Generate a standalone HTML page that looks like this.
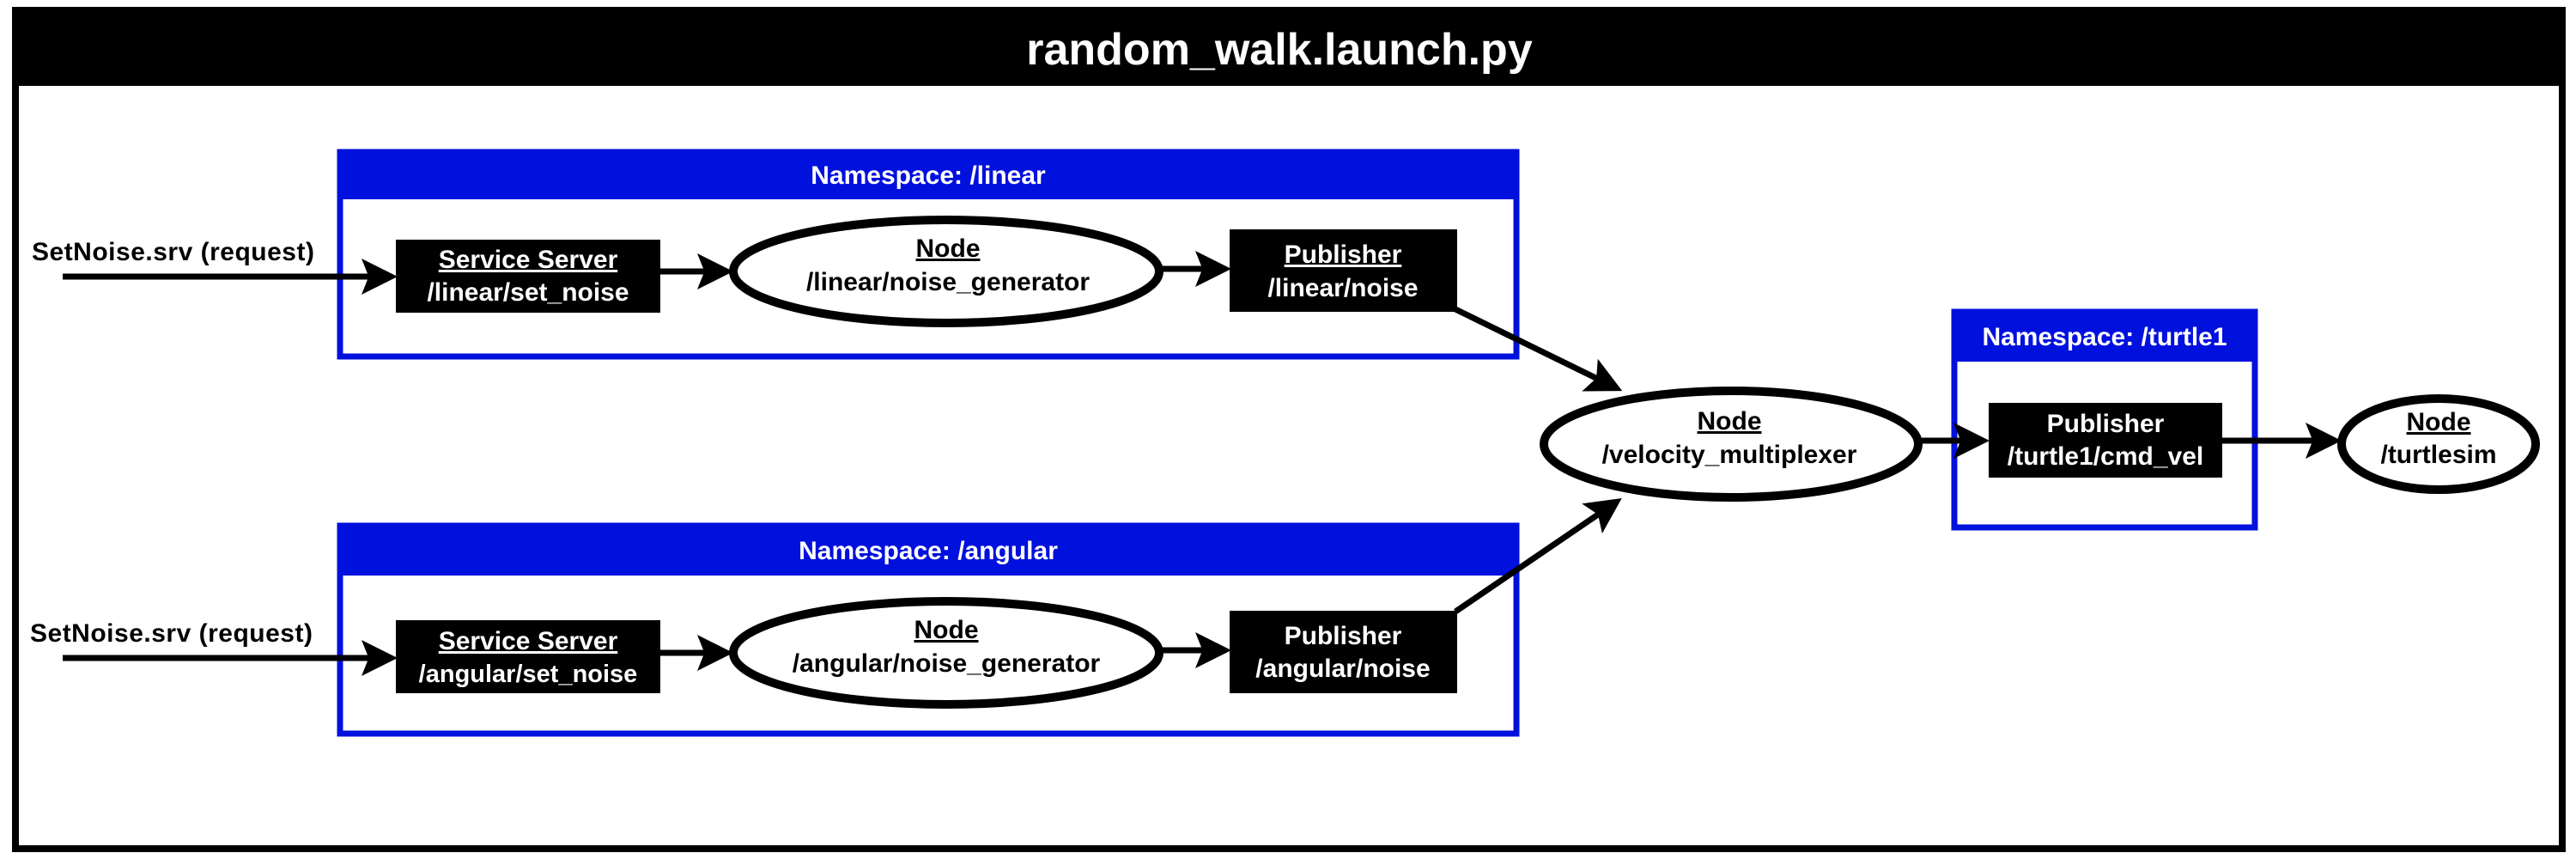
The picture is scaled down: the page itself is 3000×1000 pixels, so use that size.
<!DOCTYPE html>
<html><head><meta charset="utf-8"><style>
html,body{margin:0;padding:0;background:#fff;}
svg{display:block;}
text{font-family:"Liberation Sans","Noto Sans CJK JP",sans-serif;font-weight:bold;}
</style></head><body>
<svg width="3000" height="1000" viewBox="0 0 3000 1000" xmlns="http://www.w3.org/2000/svg">
<defs>
<marker id="ah" markerWidth="6" markerHeight="6" refX="5" refY="3" orient="auto" markerUnits="strokeWidth">
<path d="M0,0 L6,3 L0,6 L1.2,3 Z" fill="#000"/>
</marker>
</defs>
<rect x="0" y="0" width="3000" height="1000" fill="#fff"/>
<rect x="18" y="12" width="2966" height="976" fill="none" stroke="#000" stroke-width="8"/>
<rect x="14" y="8" width="2974" height="92" fill="#000"/>
<text x="1490" y="75" font-size="52" fill="#fff" text-anchor="middle">random_walk.launch.py</text>

<rect x="396" y="177" width="1370" height="238" fill="none" stroke="#0010DD" stroke-width="7"/>
<rect x="393" y="174" width="1376" height="58" fill="#0010DD"/>
<text x="1081" y="214" font-size="30" fill="#fff" text-anchor="middle">Namespace: /linear</text>

<rect x="396" y="612" width="1370" height="242" fill="none" stroke="#0010DD" stroke-width="7"/>
<rect x="393" y="609" width="1376" height="61" fill="#0010DD"/>
<text x="1081" y="651" font-size="30" fill="#fff" text-anchor="middle">Namespace: /angular</text>

<rect x="2276" y="363" width="350" height="251" fill="none" stroke="#0010DD" stroke-width="7"/>
<rect x="2273" y="360" width="356" height="61" fill="#0010DD"/>
<text x="2451" y="402" font-size="30" fill="#fff" text-anchor="middle">Namespace: /turtle1</text>

<g stroke="#000" stroke-width="7" fill="none">
<line x1="73" y1="322" x2="456" y2="322" marker-end="url(#ah)"/>
<line x1="769" y1="316" x2="847" y2="316" marker-end="url(#ah)"/>
<line x1="1352" y1="313" x2="1427" y2="313" marker-end="url(#ah)"/>
<line x1="73" y1="766" x2="456" y2="766" marker-end="url(#ah)"/>
<line x1="769" y1="760" x2="847" y2="760" marker-end="url(#ah)"/>
<line x1="1352" y1="757" x2="1427" y2="757" marker-end="url(#ah)"/>
<line x1="1695" y1="360" x2="1883" y2="452" marker-end="url(#ah)"/>
<line x1="1695" y1="712" x2="1883" y2="584" marker-end="url(#ah)"/>
<line x1="2238" y1="513" x2="2310" y2="513" marker-end="url(#ah)"/>
<line x1="2587" y1="513" x2="2720" y2="513" marker-end="url(#ah)"/>
</g>

<text x="37" y="303" font-size="30" fill="#000" letter-spacing="0.5">SetNoise.srv (request)</text>
<text x="35" y="747" font-size="30" fill="#000" letter-spacing="0.5">SetNoise.srv (request)</text>

<rect x="461" y="279" width="308" height="85" fill="#000"/>
<text x="615" y="312" font-size="30" fill="#fff" text-anchor="middle" text-decoration="underline">Service Server</text>
<text x="615" y="350" font-size="30" fill="#fff" text-anchor="middle">/linear/set_noise</text>
<ellipse cx="1102" cy="316" rx="248" ry="60" fill="#fff" stroke="#000" stroke-width="10"/>
<text x="1104" y="299" font-size="30" fill="#000" text-anchor="middle" text-decoration="underline">Node</text>
<text x="1104" y="338" font-size="30" fill="#000" text-anchor="middle">/linear/noise_generator</text>
<rect x="1432" y="267" width="265" height="96" fill="#000"/>
<text x="1564" y="306" font-size="30" fill="#fff" text-anchor="middle" text-decoration="underline">Publisher</text>
<text x="1564" y="345" font-size="30" fill="#fff" text-anchor="middle">/linear/noise</text>

<rect x="461" y="722" width="308" height="85" fill="#000"/>
<text x="615" y="756" font-size="30" fill="#fff" text-anchor="middle" text-decoration="underline">Service Server</text>
<text x="615" y="794" font-size="29" fill="#fff" text-anchor="middle">/angular/set_noise</text>
<ellipse cx="1102" cy="760" rx="248" ry="60" fill="#fff" stroke="#000" stroke-width="10"/>
<text x="1102" y="743" font-size="30" fill="#000" text-anchor="middle" text-decoration="underline">Node</text>
<text x="1102" y="782" font-size="30" fill="#000" text-anchor="middle">/angular/noise_generator</text>
<rect x="1432" y="711" width="265" height="96" fill="#000"/>
<text x="1564" y="750" font-size="30" fill="#fff" text-anchor="middle">Publisher</text>
<text x="1564" y="788" font-size="30" fill="#fff" text-anchor="middle">/angular/noise</text>

<ellipse cx="2016" cy="517" rx="218" ry="62" fill="#fff" stroke="#000" stroke-width="10"/>
<text x="2014" y="500" font-size="30" fill="#000" text-anchor="middle" text-decoration="underline">Node</text>
<text x="2014" y="539" font-size="30" fill="#000" text-anchor="middle">/velocity_multiplexer</text>

<rect x="2316" y="469" width="272" height="87" fill="#000"/>
<text x="2452" y="503" font-size="30" fill="#fff" text-anchor="middle">Publisher</text>
<text x="2452" y="541" font-size="30" fill="#fff" text-anchor="middle">/turtle1/cmd_vel</text>

<ellipse cx="2840" cy="517" rx="113" ry="53" fill="#fff" stroke="#000" stroke-width="10"/>
<text x="2840" y="501" font-size="30" fill="#000" text-anchor="middle" text-decoration="underline">Node</text>
<text x="2840" y="539" font-size="30" fill="#000" text-anchor="middle">/turtlesim</text>
</svg>
</body></html>
